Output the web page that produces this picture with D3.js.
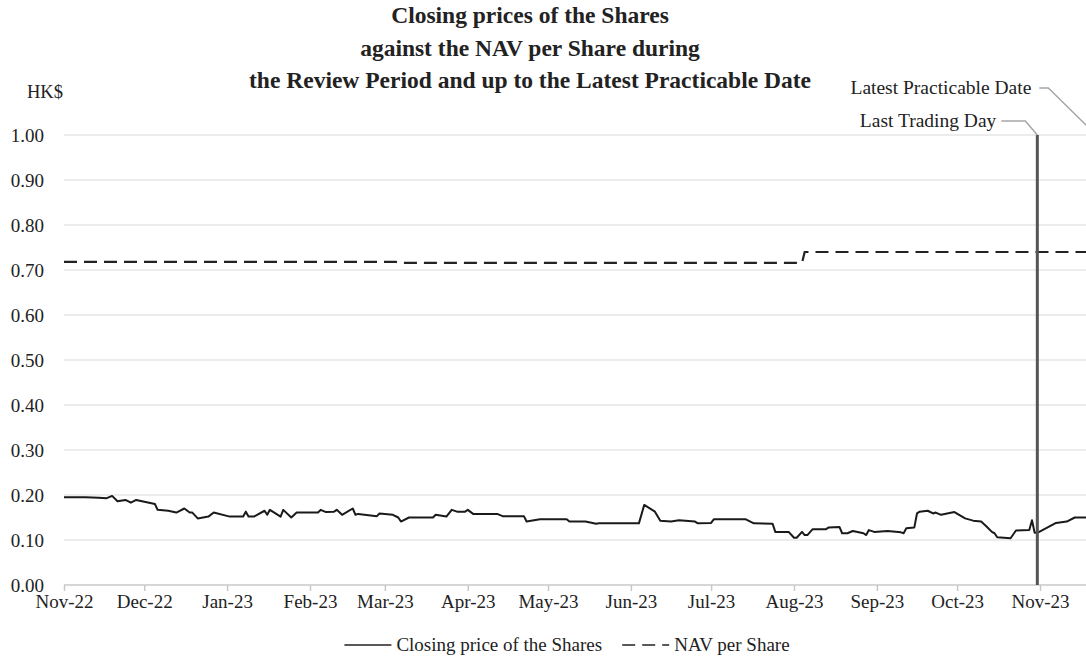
<!DOCTYPE html>
<html>
<head>
<meta charset="utf-8">
<script src="https://cdn.jsdelivr.net/npm/d3@7"></script>
<style>
  html, body { margin: 0; padding: 0; background: #fff; }
  svg { display: block; font-family: "Liberation Serif", "Times New Roman", serif; }
</style>
</head>
<body>
<svg id="chart" width="1086" height="657"></svg>
<script>
// ---- Data ----
const titleLines = [
  "Closing prices of the Shares",
  "against the NAV per Share during",
  "the Review Period and up to the Latest Practicable Date"
];
const yTickValues = [0.0, 0.1, 0.2, 0.3, 0.4, 0.5, 0.6, 0.7, 0.8, 0.9, 1.0];
const monthTicks = ["2022-11-01","2022-12-01","2023-01-01","2023-02-01","2023-03-01","2023-04-01",
  "2023-05-01","2023-06-01","2023-07-01","2023-08-01","2023-09-01","2023-10-01","2023-11-01"];

const priceDates = [
  "2022-11-01","2022-11-09","2022-11-14","2022-11-17","2022-11-19","2022-11-21","2022-11-24","2022-11-26","2022-11-28",
  "2022-12-05","2022-12-06","2022-12-10","2022-12-13","2022-12-16","2022-12-18","2022-12-19","2022-12-21","2022-12-25","2022-12-27",
  "2023-01-02","2023-01-07","2023-01-08","2023-01-09","2023-01-11","2023-01-15","2023-01-16","2023-01-17","2023-01-21","2023-01-22","2023-01-25","2023-01-27",
  "2023-02-04","2023-02-05","2023-02-07","2023-02-10","2023-02-11","2023-02-13","2023-02-17","2023-02-18","2023-02-19","2023-02-26","2023-02-27",
  "2023-03-04","2023-03-06","2023-03-07","2023-03-10","2023-03-19","2023-03-20","2023-03-24","2023-03-26","2023-03-28","2023-03-31",
  "2023-04-01","2023-04-03","2023-04-12","2023-04-14","2023-04-22","2023-04-23","2023-04-28",
  "2023-05-08","2023-05-09","2023-05-15","2023-05-19","2023-05-20",
  "2023-06-04","2023-06-06","2023-06-10","2023-06-12","2023-06-16","2023-06-19","2023-06-25","2023-06-26",
  "2023-07-01","2023-07-02","2023-07-14","2023-07-17","2023-07-24","2023-07-25","2023-07-30",
  "2023-08-01","2023-08-02","2023-08-04","2023-08-05","2023-08-06","2023-08-08","2023-08-13","2023-08-14","2023-08-18","2023-08-19","2023-08-21","2023-08-23","2023-08-27","2023-08-28","2023-08-29","2023-08-31",
  "2023-09-05","2023-09-10","2023-09-11","2023-09-12","2023-09-15","2023-09-16","2023-09-17","2023-09-20","2023-09-22","2023-09-23","2023-09-25","2023-09-30",
  "2023-10-04","2023-10-07","2023-10-10","2023-10-12","2023-10-14","2023-10-15","2023-10-16","2023-10-21","2023-10-23","2023-10-28","2023-10-29","2023-10-30","2023-10-31",
  "2023-11-07","2023-11-11","2023-11-14","2023-11-22"
];
const priceValues = [
  0.195,0.195,0.194,0.193,0.198,0.186,0.189,0.183,0.189,
  0.180,0.167,0.165,0.161,0.170,0.161,0.161,0.148,0.152,0.161,
  0.152,0.152,0.163,0.152,0.152,0.165,0.156,0.167,0.152,0.167,0.150,0.161,
  0.161,0.167,0.162,0.163,0.167,0.156,0.170,0.156,0.158,0.153,0.159,
  0.156,0.150,0.141,0.150,0.150,0.156,0.152,0.167,0.163,0.163,
  0.167,0.158,0.158,0.153,0.153,0.141,0.146,
  0.146,0.141,0.141,0.136,0.137,
  0.137,0.178,0.163,0.143,0.141,0.144,0.141,0.137,
  0.138,0.146,0.146,0.137,0.136,0.118,0.118,
  0.105,0.105,0.118,0.111,0.111,0.124,0.124,0.128,0.129,0.115,0.115,0.120,0.115,0.111,0.122,0.118,
  0.120,0.117,0.115,0.126,0.128,0.159,0.163,0.165,0.159,0.161,0.156,0.162,
  0.148,0.143,0.141,0.130,0.118,0.115,0.106,0.104,0.121,0.122,0.144,0.116,0.116,
  0.138,0.141,0.150,0.150
];

const navDates = ["2022-11-01","2023-03-05","2023-03-07","2023-08-04","2023-08-05","2023-11-24"];
const navValues = [0.718,0.718,0.716,0.716,0.740,0.740];

const lastTradingDay = "2023-10-31";
const latestPracticableDate = "2023-11-22";
const yUnit = "HK$";
const legendLabels = ["Closing price of the Shares", "NAV per Share"];

// ---- Setup ----
const parse = d3.timeParse("%Y-%m-%d");
const svg = d3.select("#chart");
const W = 1086;
const margin = { left: 64, top: 135, bottom: 585 };

const x = d3.scaleTime()
  .domain([parse("2022-11-01"), parse("2023-11-01")])
  .range([margin.left, 1040]);
const y = d3.scaleLinear().domain([0, 1]).range([margin.bottom, margin.top]);

const serif = '"Liberation Serif", "Times New Roman", serif';
const ink = "#222";

// gridlines
svg.append("g").selectAll("line")
  .data(yTickValues.filter(v => v > 0))
  .join("line")
  .attr("x1", margin.left).attr("x2", W + 20)
  .attr("y1", d => y(d)).attr("y2", d => y(d))
  .attr("stroke", "#d9d9d9").attr("stroke-width", 1);

// y tick labels
svg.append("g").selectAll("text")
  .data(yTickValues)
  .join("text")
  .attr("x", 44).attr("y", d => y(d))
  .attr("dy", "0.35em")
  .attr("text-anchor", "end")
  .attr("font-size", 19).attr("fill", ink)
  .text(d => d3.format(".2f")(d));

// HK$
svg.append("text").attr("x", 27).attr("y", y(1) - 37)
  .attr("font-size", 18.5).attr("fill", ink).text(yUnit);

// x axis
const xAxis = d3.axisBottom(x)
  .tickValues(monthTicks.map(parse))
  .tickFormat(d3.timeFormat("%b-%y"))
  .tickSize(6).tickPadding(4);
const gx = svg.append("g").attr("transform", `translate(0,${y(0)})`).call(xAxis);
gx.select(".domain").remove();
gx.append("line").attr("x1", margin.left).attr("x2", W + 20)
  .attr("stroke", "#c8c8c8").attr("stroke-width", 1.5);
gx.selectAll(".tick line").attr("stroke", "#c8c8c8").attr("stroke-width", 1.5);
gx.selectAll(".tick text").attr("font-family", serif).attr("font-size", 19).attr("fill", ink);

// NAV line
const navData = navDates.map((d, i) => ({ date: parse(d), value: navValues[i] }));
svg.append("path").datum(navData)
  .attr("fill", "none").attr("stroke", ink).attr("stroke-width", 2.2)
  .attr("stroke-dasharray", "13,7")
  .attr("d", d3.line().x(d => x(d.date)).y(d => y(d.value)));

// price line
const priceData = priceDates.map((d, i) => ({ date: parse(d), value: priceValues[i] }));
svg.append("path").datum(priceData)
  .attr("fill", "none").attr("stroke", "#1a1a1a").attr("stroke-width", 2)
  .attr("stroke-linejoin", "round")
  .attr("d", d3.line().x(d => x(d.date)).y(d => y(d.value)));

// Last trading day bar
const ltdX = x(parse(lastTradingDay));
svg.append("line").attr("x1", ltdX).attr("x2", ltdX)
  .attr("y1", y(1)).attr("y2", y(0))
  .attr("stroke", "#555").attr("stroke-width", 3);

// annotations
const lpdX = x(parse(latestPracticableDate));
svg.append("path")
  .attr("d", `M${ltdX - 36},${y(1) - 14} L${ltdX - 12},${y(1) - 14} L${ltdX},${y(1)}`)
  .attr("fill", "none").attr("stroke", "#a6a6a6").attr("stroke-width", 1.5);
svg.append("text").attr("x", ltdX - 41).attr("y", y(1) - 15).attr("dy", "0.35em")
  .attr("text-anchor", "end").attr("font-size", 19.5).attr("fill", ink).text("Last Trading Day");

svg.append("path")
  .attr("d", `M${ltdX + 2},${y(1) - 47} L${ltdX + 11},${y(1) - 47} L${lpdX},${y(1)}`)
  .attr("fill", "none").attr("stroke", "#a6a6a6").attr("stroke-width", 1.5);
svg.append("text").attr("x", ltdX - 6).attr("y", y(1) - 48).attr("dy", "0.35em")
  .attr("text-anchor", "end").attr("font-size", 19.5).attr("fill", ink).text("Latest Practicable Date");

// title
svg.append("g").selectAll("text")
  .data(titleLines)
  .join("text")
  .attr("x", 530).attr("y", (d, i) => 23 + i * 32.5)
  .attr("text-anchor", "middle")
  .attr("font-size", 23.5).attr("font-weight", "bold").attr("fill", ink)
  .text(d => d);

// legend (laid out from measured text widths, centred)
const lg = svg.append("g").attr("transform", "translate(0,645)");
const sample = 47, gapSample = 5, gapItem = 20;
const items = legendLabels.map((lab, i) => {
  const g = lg.append("g");
  g.append("line").attr("x1", 0).attr("x2", sample).attr("y1", 0).attr("y2", 0)
    .attr("stroke", ink).attr("stroke-width", 1.6)
    .attr("stroke-dasharray", i === 1 ? "13,7" : null);
  const t = g.append("text").attr("x", sample + gapSample).attr("y", 0).attr("dy", "0.32em")
    .attr("font-size", 19).attr("fill", ink).text(lab);
  return { g, w: sample + gapSample + t.node().getComputedTextLength() };
});
const totalW = d3.sum(items, d => d.w) + gapItem * (items.length - 1);
let cx = 567 - totalW / 2;
items.forEach(it => { it.g.attr("transform", `translate(${cx},0)`); cx += it.w + gapItem; });
</script>
</body>
</html>
